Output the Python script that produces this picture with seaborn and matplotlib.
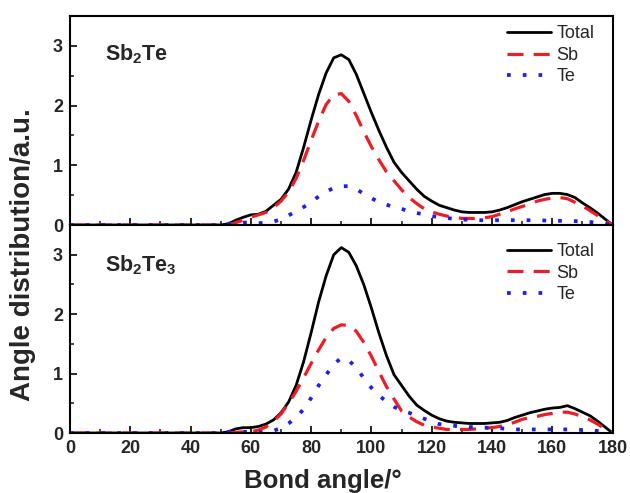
import numpy as np
import pandas as pd
import matplotlib
matplotlib.use("Agg")
import matplotlib.pyplot as plt
import seaborn as sns

# Bond-angle grid (degrees)
angles = [0, 50, 52.5, 55, 57.5, 60, 62.5, 65, 67.5, 70, 72.5, 75, 77.5, 80, 82.5,
          85, 87.5, 90, 92.5, 95, 97.5, 100, 102.5, 105, 107.5, 110, 112.5, 115,
          117.5, 120, 122.5, 125, 127.5, 130, 132.5, 135, 137.5, 140, 142.5, 145,
          147.5, 150, 152.5, 155, 157.5, 160, 162.5, 165, 167.5, 170, 172.5, 175,
          177.5, 180]

# Sb2Te angle distributions
sb2te_total = [0, 0, 0.02, 0.08, 0.13, 0.17, 0.18, 0.23, 0.33, 0.43, 0.60, 0.88, 1.30,
               1.76, 2.19, 2.55, 2.80, 2.85, 2.77, 2.52, 2.20, 1.88, 1.58, 1.30, 1.05,
               0.88, 0.74, 0.60, 0.48, 0.40, 0.33, 0.29, 0.25, 0.22, 0.21, 0.21, 0.21,
               0.22, 0.25, 0.29, 0.34, 0.39, 0.43, 0.47, 0.51, 0.53, 0.53, 0.51, 0.46,
               0.37, 0.29, 0.20, 0.10, 0.0]
sb2te_sb = [0, 0, 0, 0.04, 0.08, 0.13, 0.17, 0.21, 0.29, 0.40, 0.55, 0.78, 1.08, 1.42,
            1.74, 2.02, 2.18, 2.20, 2.07, 1.83, 1.56, 1.31, 1.09, 0.89, 0.74, 0.59,
            0.46, 0.36, 0.27, 0.22, 0.18, 0.15, 0.13, 0.11, 0.11, 0.11, 0.12, 0.14,
            0.18, 0.22, 0.27, 0.31, 0.35, 0.40, 0.43, 0.45, 0.46, 0.44, 0.38, 0.32,
            0.24, 0.16, 0.08, 0.0]
sb2te_te = [0, 0, 0.02, 0.04, 0.04, 0.04, 0.03, 0.04, 0.06, 0.09, 0.16, 0.23, 0.30,
            0.38, 0.48, 0.56, 0.62, 0.65, 0.65, 0.60, 0.52, 0.45, 0.38, 0.34, 0.30,
            0.27, 0.23, 0.20, 0.18, 0.15, 0.13, 0.12, 0.10, 0.09, 0.09, 0.08, 0.08,
            0.08, 0.08, 0.08, 0.08, 0.08, 0.08, 0.08, 0.075, 0.07, 0.07, 0.07, 0.065,
            0.06, 0.05, 0.04, 0.02, 0.0]

# Sb2Te3 angle distributions
sb2te3_total = [0, 0, 0.02, 0.07, 0.09, 0.09, 0.11, 0.15, 0.22, 0.34, 0.52, 0.80, 1.20,
                1.69, 2.21, 2.65, 3.00, 3.12, 3.04, 2.81, 2.49, 2.10, 1.68, 1.30, 0.98,
                0.80, 0.62, 0.47, 0.38, 0.30, 0.24, 0.20, 0.18, 0.17, 0.16, 0.16, 0.16,
                0.17, 0.18, 0.21, 0.26, 0.30, 0.34, 0.37, 0.40, 0.42, 0.43, 0.46, 0.41,
                0.35, 0.29, 0.20, 0.10, 0.0]
sb2te3_sb = [0, 0, 0, 0.01, 0.02, 0.02, 0.05, 0.10, 0.20, 0.32, 0.50, 0.70, 0.93, 1.17,
             1.40, 1.61, 1.76, 1.82, 1.81, 1.71, 1.52, 1.29, 1.03, 0.78, 0.57, 0.37,
             0.27, 0.19, 0.13, 0.10, 0.08, 0.06, 0.06, 0.06, 0.06, 0.07, 0.08, 0.09,
             0.11, 0.14, 0.18, 0.23, 0.26, 0.28, 0.31, 0.33, 0.35, 0.35, 0.32, 0.27,
             0.22, 0.15, 0.07, 0.0]
sb2te3_te = [0, 0, 0.02, 0.03, 0.02, 0.02, 0.01, 0.02, 0.04, 0.08, 0.16, 0.26, 0.40,
             0.59, 0.80, 0.98, 1.16, 1.26, 1.22, 1.10, 0.92, 0.76, 0.63, 0.53, 0.44,
             0.38, 0.34, 0.29, 0.24, 0.19, 0.15, 0.13, 0.12, 0.11, 0.10, 0.10, 0.09,
             0.085, 0.08, 0.07, 0.06, 0.06, 0.06, 0.06, 0.06, 0.06, 0.06, 0.06, 0.06,
             0.05, 0.045, 0.035, 0.02, 0.0]

series_names = ["Total", "Sb", "Te"]
panel_titles = [r"$\mathbf{Sb_2Te}$", r"$\mathbf{Sb_2Te_3}$"]
x_ticks = [0, 20, 40, 60, 80, 100, 120, 140, 160, 180]
y_ticks = [0, 1, 2, 3]

sns.set_theme(style="ticks")
plt.rcParams.update({
    "font.family": ["Liberation Sans", "DejaVu Sans"],
    "mathtext.fontset": "custom",
    "mathtext.rm": "Liberation Sans",
    "mathtext.bf": "Liberation Sans:bold",
    "axes.linewidth": 1.5,
})

styles = {
    "Total": dict(color="black", linestyle="-", linewidth=2.0),
    "Sb": dict(color="#ee1c24", linestyle=(0, (5.0, 3.2)), linewidth=2.3),
    "Te": dict(color="#1d1df2", linestyle=(0, (1, 3.2)), linewidth=2.7),
}

fig = plt.figure(figsize=(6.3, 4.93), dpi=100)
left, right = 70 / 630, 612.6 / 630
bottom, mid, top = 1 - 433 / 493, 1 - 225 / 493, 1 - 16 / 493
ax_top = fig.add_axes([left, mid, right - left, top - mid])
ax_bot = fig.add_axes([left, bottom, right - left, mid - bottom], sharex=ax_top)

panels = [
    (ax_top, [sb2te_total, sb2te_sb, sb2te_te]),
    (ax_bot, [sb2te3_total, sb2te3_sb, sb2te3_te]),
]

for i, (ax, curves) in enumerate(panels):
    df = pd.DataFrame({"angle": angles})
    for name, vals in zip(series_names, curves):
        df[name] = vals
    for name in series_names:
        sns.lineplot(data=df, x="angle", y=name, ax=ax, label=name,
                     estimator=None, sort=False, **styles[name])
    ax.set_xlim(0, 180)
    ax.set_ylim(0, 3.5)
    ax.set_yticks(y_ticks)
    ax.set_yticks(np.arange(0.5, 3.5, 1.0), minor=True)
    ax.set_xticks(x_ticks)
    ax.set_xticks(np.arange(10, 180, 20), minor=True)
    ax.tick_params(axis="both", which="major", direction="in", length=5, width=1.4,
                   labelsize=13, pad=5, top=False, right=False)
    ax.tick_params(axis="both", which="minor", direction="in", length=3, width=1.2,
                   top=False, right=False)
    for lab in ax.get_yticklabels() + ax.get_xticklabels():
        lab.set_fontweight("bold")
    for sp in ax.spines.values():
        sp.set_visible(True)
        sp.set_linewidth(1.5)
        sp.set_color("black")
    ax.set_ylabel("")
    ax.set_xlabel("")
    leg_top = 0.955 if i == 0 else 0.912
    ax.legend(loc="upper right", bbox_to_anchor=(0.966, leg_top), frameon=False,
              fontsize=13, handlelength=2.4, handletextpad=0.3, labelspacing=0.25,
              borderpad=0, borderaxespad=0)
    text_y = 0.789 if i == 0 else 0.776
    ax.text(0.0645, text_y, panel_titles[i], transform=ax.transAxes, fontsize=15.5,
            fontweight="bold", ha="left", va="baseline")

ax_top.tick_params(axis="x", labelbottom=False)

ax_bot.set_xlabel("Bond angle/°", fontsize=18.5, fontweight="bold")
ax_bot.xaxis.set_label_coords(0.466, -0.172)
fig.text(23 / 630, 1 - 255 / 493, "Angle distribution/a.u.", rotation=90,
         fontsize=20, fontweight="bold", ha="center", va="center")

fig.savefig("out.png", dpi=100)
